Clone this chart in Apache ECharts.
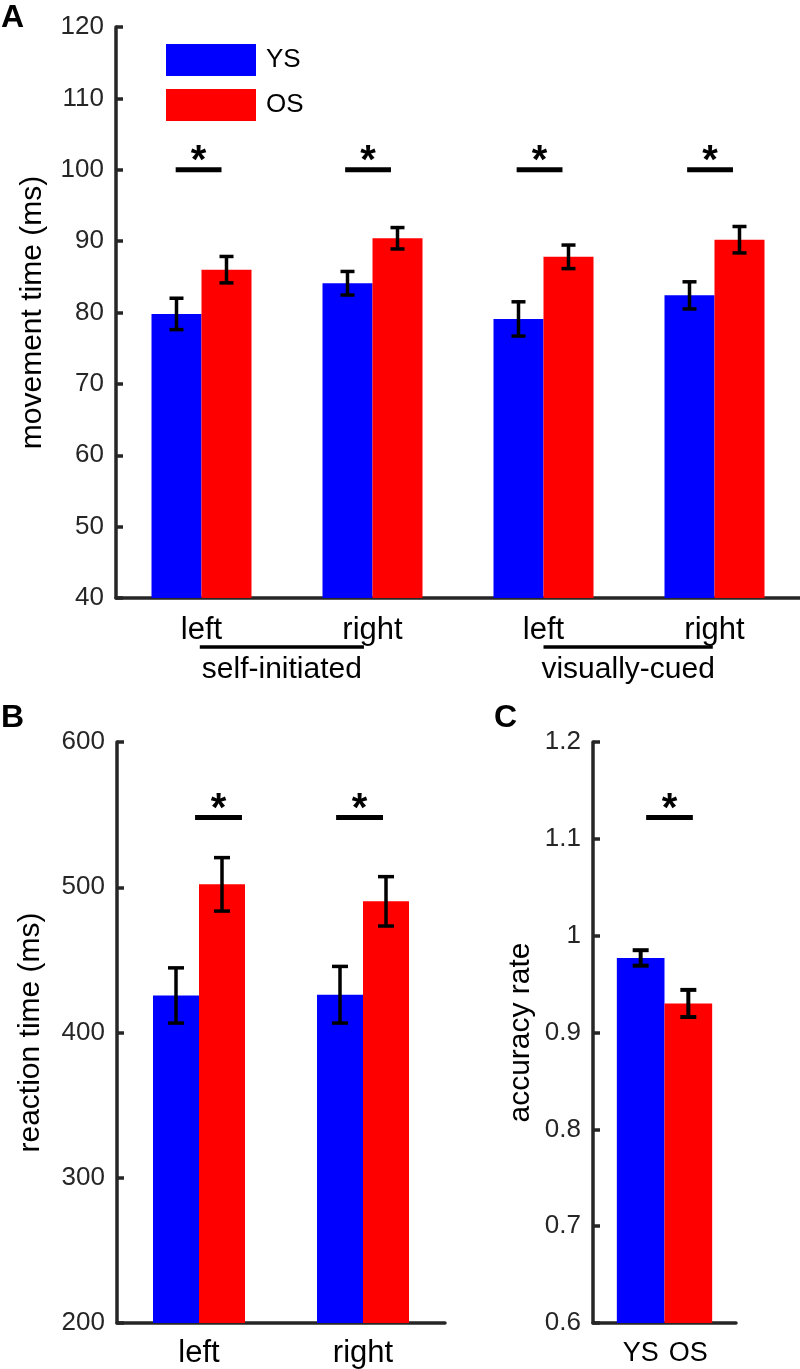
<!DOCTYPE html>
<html><head><meta charset="utf-8">
<script src="https://cdn.jsdelivr.net/npm/echarts@6/dist/echarts.min.js"></script>
<style>html,body{margin:0;padding:0;background:#fff}#c{width:800px;height:1369px}</style>
</head><body><div id="c"></div>
<script>
// ---------- data ----------
const seriesNames = ['YS', 'OS'];
// Panel A: movement time (ms)
const catA = ['left', 'right', 'left', 'right'];
const ysA = [79.8, 84.1, 79.1, 82.4];
const ysAErr = [2.2, 1.65, 2.4, 1.9];
const osA = [86.0, 90.4, 87.8, 90.2];
const osAErr = [1.85, 1.5, 1.65, 1.85];
const groupNamesA = ['self-initiated', 'visually-cued'];
const groupSpanA = [[0.49, 1.45], [2.5, 3.49]];   // in category-width units
const sigXA = [0.483, 1.474, 2.477, 3.474];
const sigYA = 100;
// Panel B: reaction time (ms)
const catB = ['left', 'right'];
const ysB = [425.5, 426];
const ysBErr = [19, 19.5];
const osB = [502, 490.3];
const osBErr = [18.4, 17];
const sigXB = [0.619, 1.479];
const sigYB = 548;
// Panel C: accuracy rate
const catC = ['YS', 'OS'];
const accC = [0.977, 0.930];
const accCErr = [0.008, 0.014];
const sigXC = [1.605];
const sigYC = 1.122;

// ---------- styles ----------
const FONT = '"Liberation Sans", Arial, Helvetica, sans-serif';
const AX = '#262626';
const BLUE = '#0000ff', RED = '#ff0000';

const chart = echarts.init(document.getElementById('c'), null, {renderer: 'canvas'});

function yAxisCfg(gi, min, max, interval, name, gap, fmt) {
  return {
    type: 'value', gridIndex: gi, min, max, interval,
    name, nameLocation: 'middle', nameGap: gap,
    nameTextStyle: {fontSize: 30, color: '#000', fontFamily: FONT},
    axisLine: {show: true, lineStyle: {color: AX, width: 3.5}},
    axisTick: {show: true, inside: true, length: 7, lineStyle: {color: AX, width: 3.5}},
    axisLabel: {fontSize: 26, color: AX, fontFamily: FONT, margin: 12, formatter: fmt},
    splitLine: {show: false}
  };
}
function catAxisCfg(gi, data, fs, margin) {
  return {
    type: 'category', gridIndex: gi, data,
    axisLine: {show: true, lineStyle: {color: AX, width: 3.5}},
    axisTick: {show: false},
    axisLabel: {fontSize: fs, color: '#000', fontFamily: FONT, margin},
    splitLine: {show: false}
  };
}
function hiddenValAxis(gi, min, max) {
  return {type: 'value', gridIndex: gi, min, max, show: false, splitLine: {show: false}};
}

function errRender(barW, capW, lw) {
  return function (params, api) {
    const i = api.value(0), m = api.value(1), e = api.value(2), side = api.value(3);
    const c = api.coord([i, m]);
    const x = c[0] + side * barW / 2;
    const top = api.coord([i, m + e])[1];
    const bot = api.coord([i, m - e])[1];
    const st = {stroke: '#000', lineWidth: lw};
    return {type: 'group', children: [
      {type: 'line', shape: {x1: x, y1: top, x2: x, y2: bot}, style: st},
      {type: 'line', shape: {x1: x - capW / 2, y1: top, x2: x + capW / 2, y2: top}, style: st},
      {type: 'line', shape: {x1: x - capW / 2, y1: bot, x2: x + capW / 2, y2: bot}, style: st}
    ]};
  };
}
function sigRender(halfW) {
  return function (params, api) {
    const xc = api.value(0), y = api.value(1);
    const p0 = api.coord([xc - halfW, y]);
    const p1 = api.coord([xc + halfW, y]);
    const mid = (p0[0] + p1[0]) / 2;
    return {type: 'group', children: [
      {type: 'line', shape: {x1: p0[0], y1: p0[1], x2: p1[0], y2: p1[1]}, style: {stroke: '#000', lineWidth: 5}},
      {type: 'text', x: mid, y: p0[1] + 12,
        style: {text: '*', font: 'bold 40px ' + FONT, fill: '#000',
          align: 'center', verticalAlign: 'bottom', textAlign: 'center', textVerticalAlign: 'bottom'}}
    ]};
  };
}
function errData(means, errs, side) {
  return means.map((m, i) => [i, m, errs[i], side]);
}

const series = [
  // Panel A
  {name: 'YS', type: 'bar', xAxisIndex: 0, yAxisIndex: 0, data: ysA, barWidth: 50, barGap: '0%',
    itemStyle: {color: BLUE}, animation: false},
  {name: 'OS', type: 'bar', xAxisIndex: 0, yAxisIndex: 0, data: osA, barWidth: 50, barGap: '0%',
    itemStyle: {color: RED}, animation: false},
  {name: 'errA', type: 'custom', xAxisIndex: 0, yAxisIndex: 0, renderItem: errRender(50, 14, 3.5),
    data: errData(ysA, ysAErr, -1).concat(errData(osA, osAErr, 1)), z: 5, animation: false},
  {name: 'sigA', type: 'custom', xAxisIndex: 1, yAxisIndex: 0, renderItem: sigRender(0.134),
    data: sigXA.map(x => [x, sigYA]), z: 5, animation: false},
  {name: 'groupsA', type: 'custom', xAxisIndex: 1, yAxisIndex: 0, clip: false, animation: false,
    data: groupSpanA.map((s, i) => [s[0], s[1], i]),
    renderItem: function (params, api) {
      const x0 = api.value(0), x1 = api.value(1), gi = api.value(2);
      const p0 = api.coord([x0, 40]), p1 = api.coord([x1, 40]);
      const yl = p0[1] + 49;
      return {type: 'group', children: [
        {type: 'line', shape: {x1: p0[0], y1: yl, x2: p1[0], y2: yl}, style: {stroke: '#000', lineWidth: 3.5}},
        {type: 'text', x: (p0[0] + p1[0]) / 2, y: yl + 23,
          style: {text: groupNamesA[gi], font: '30px ' + FONT, fill: '#000',
            align: 'center', verticalAlign: 'middle', textAlign: 'center', textVerticalAlign: 'middle'}}
      ]};
    }},
  // Panel B
  {name: 'YS', type: 'bar', xAxisIndex: 2, yAxisIndex: 1, data: ysB, barWidth: 46, barGap: '0%',
    itemStyle: {color: BLUE}, animation: false},
  {name: 'OS', type: 'bar', xAxisIndex: 2, yAxisIndex: 1, data: osB, barWidth: 46, barGap: '0%',
    itemStyle: {color: RED}, animation: false},
  {name: 'errB', type: 'custom', xAxisIndex: 2, yAxisIndex: 1, renderItem: errRender(46, 16, 3.5),
    data: errData(ysB, ysBErr, -1).concat(errData(osB, osBErr, 1)), z: 5, animation: false},
  {name: 'sigB', type: 'custom', xAxisIndex: 3, yAxisIndex: 1, renderItem: sigRender(0.143),
    data: sigXB.map(x => [x, sigYB]), z: 5, animation: false},
  // Panel C
  {name: 'barsC', type: 'custom', xAxisIndex: 4, yAxisIndex: 2, animation: false,
    data: accC.map((v, i) => [i + 1, v, i]),
    renderItem: function (params, api) {
      const x = api.value(0), v = api.value(1), ci = api.value(2);
      const p0 = api.coord([x - 0.5, v]);
      const p1 = api.coord([x + 0.5, 0.6]);
      return {type: 'rect', shape: {x: p0[0], y: p0[1], width: p1[0] - p0[0], height: p1[1] - p0[1]},
        style: {fill: ci === 0 ? BLUE : RED}};
    }},
  {name: 'errC', type: 'custom', xAxisIndex: 4, yAxisIndex: 2, renderItem: errRender(0, 16, 4),
    data: accC.map((v, i) => [i + 1, v, accCErr[i], 0]), z: 5, animation: false},
  {name: 'sigC', type: 'custom', xAxisIndex: 4, yAxisIndex: 2, renderItem: sigRender(0.49),
    data: sigXC.map(x => [x, sigYC]), z: 5, animation: false}
];

const option = {
  backgroundColor: '#fff',
  animation: false,
  title: [
    {text: 'A', left: 1, top: 2, padding: 0, textStyle: {fontSize: 32, fontWeight: 'bold', color: '#000', fontFamily: FONT}},
    {text: 'B', left: 1, top: 702, padding: 0, textStyle: {fontSize: 32, fontWeight: 'bold', color: '#000', fontFamily: FONT}},
    {text: 'C', left: 494, top: 702, padding: 0, textStyle: {fontSize: 32, fontWeight: 'bold', color: '#000', fontFamily: FONT}}
  ],
  legend: {
    data: seriesNames, orient: 'vertical', left: 166, top: 44, itemWidth: 90, itemHeight: 32, itemGap: 13,
    icon: 'rect', selectedMode: false, padding: 0,
    textStyle: {fontSize: 26, color: '#000', fontFamily: FONT, padding: [0, 0, 0, 5]}
  },
  grid: [
    {left: 116, top: 27, width: 700, height: 571},
    {left: 117, top: 742, width: 328, height: 581},
    {left: 593, top: 742, width: 143, height: 581}
  ],
  xAxis: [
    catAxisCfg(0, catA, 31, 17),
    hiddenValAxis(0, 0, 4),
    catAxisCfg(1, catB, 31, 15),
    hiddenValAxis(1, 0, 2),
    {type: 'value', gridIndex: 2, min: 0, max: 3, interval: 1,
      axisLine: {show: true, lineStyle: {color: AX, width: 3.5}},
      axisTick: {show: false}, splitLine: {show: false},
      axisLabel: {fontSize: 27, color: '#000', fontFamily: FONT, margin: 17,
        formatter: v => (v >= 1 && v <= catC.length ? catC[v - 1] : '')}}
  ],
  yAxis: [
    yAxisCfg(0, 40, 120, 10, 'movement time (ms)', 68),
    yAxisCfg(1, 200, 600, 100, 'reaction time (ms)', 71),
    yAxisCfg(2, 0.6, 1.2, 0.1, 'accuracy rate', 57, v => String(parseFloat(v.toFixed(2))))
  ],
  series
};
chart.setOption(option);
</script></body></html>
